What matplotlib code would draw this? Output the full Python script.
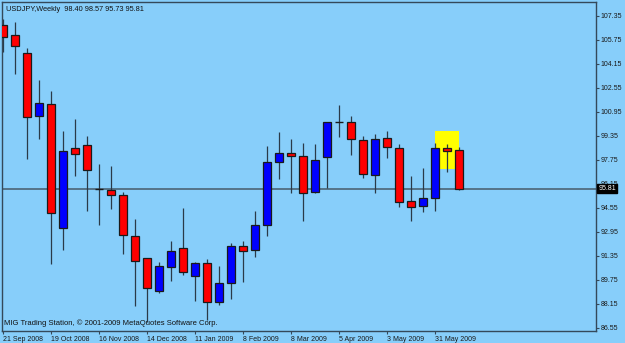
import matplotlib
matplotlib.use("Agg")
import matplotlib.pyplot as plt
import matplotlib.transforms as mtransforms
from matplotlib.patches import Rectangle
import numpy as np

plt.rcParams['font.family'] = ['Liberation Sans', 'DejaVu Sans']

# ---- data (weekly USDJPY candles, oldest first) ----
opens = [106.75, 106.02, 104.86, 100.64, 101.46, 93.17, 98.53, 98.73, 95.80, 95.75,
         95.40, 92.68, 91.20, 88.97, 90.57, 91.84, 89.97, 90.88, 88.28, 89.53,
         92.00, 91.73, 93.40, 97.57, 98.17, 98.00, 95.60, 97.95, 100.28, 100.28,
         99.08, 96.70, 99.17, 98.53, 94.95, 94.66, 95.20, 98.50, 98.40]
highs = [107.15, 106.90, 105.17, 103.02, 102.35, 99.68, 100.46, 99.35, 97.46, 97.35,
         95.57, 93.79, 91.20, 90.90, 92.30, 94.53, 90.90, 91.13, 90.62, 92.17,
         92.30, 94.35, 98.62, 99.57, 99.13, 98.86, 98.80, 100.28, 101.40, 100.62,
         99.35, 99.46, 99.62, 98.80, 96.62, 97.17, 98.84, 98.80, 98.57]
lows = [104.95, 103.42, 97.80, 99.13, 90.80, 91.73, 96.64, 94.30, 93.40, 94.46,
        91.42, 87.97, 86.95, 88.88, 89.62, 90.02, 88.30, 87.02, 88.08, 88.42,
        89.57, 91.24, 92.62, 96.42, 95.53, 93.68, 95.53, 95.84, 99.24, 98.06,
        96.53, 95.50, 97.86, 94.57, 93.68, 94.28, 94.30, 96.95, 95.73]
closes = [105.95, 105.30, 100.57, 101.53, 94.20, 98.35, 98.13, 97.06, 95.80, 95.40,
          92.73, 90.97, 89.20, 90.68, 91.68, 90.28, 90.84, 88.22, 89.53, 92.00,
          91.68, 93.40, 97.57, 98.20, 98.00, 95.55, 97.75, 100.28, 100.28, 99.13,
          96.77, 99.13, 98.57, 94.90, 94.57, 95.20, 98.50, 98.33, 95.81]

date_labels = ["21 Sep 2008", "19 Oct 2008", "16 Nov 2008", "14 Dec 2008", "11 Jan 2009",
               "8 Feb 2009", "8 Mar 2009", "5 Apr 2009", "3 May 2009", "31 May 2009"]
date_label_bars = [0, 4, 8, 12, 16, 20, 24, 28, 32, 36]

price_ticks = [107.35, 105.75, 104.15, 102.55, 100.95, 99.35, 97.75, 96.15,
               94.55, 92.95, 91.35, 89.75, 88.15, 86.55]

highlight_bars = [36, 38]
highlight_prices = [97.15, 99.62]

title_text = "USDJPY,Weekly  98.40 98.57 95.73 95.81"
copyright_text = "MIG Trading Station, \u00a9 2001-2009 MetaQuotes Software Corp."
last_price = 95.81

# ---- styling ----
BG = "#87CEFA"
FRAME = "#34495a"
BULL = "#0000FF"
BEAR = "#FF0000"
W, H = 625, 343

fig = plt.figure(figsize=(W / 100, H / 100), dpi=100)
fig.patch.set_facecolor(BG)
ax = fig.add_axes([2 / W, (H - 331) / H, (596 - 2) / W, (331 - 2) / H])
ax.set_facecolor(BG)

px_per_bar = 12.0
ax.set_xlim((2 - 3) / px_per_bar, (596 - 3) / px_per_bar)
ppu = 15.0
ax.set_ylim(107.35 - (331 - 15.5) / ppu, 107.35 - (2 - 15.5) / ppu)

# highlight rectangle (behind candles)
ax.add_patch(Rectangle((highlight_bars[0], highlight_prices[0]),
                       highlight_bars[1] - highlight_bars[0],
                       highlight_prices[1] - highlight_prices[0],
                       facecolor="#FFFF00", edgecolor="none", zorder=1))

# last price line
ax.axhline(last_price, color="#4b6475", lw=1.2, zorder=1.5)

width = 8 / px_per_bar
for i, (o, h, l, c) in enumerate(zip(opens, highs, lows, closes)):
    ax.vlines(i, l, h, color="#2a3a48", lw=0.9, zorder=2)
    if abs(c - o) < 1e-9:
        ax.hlines(o, i - width / 2, i + width / 2, color="#1a1a1a", lw=1.0, zorder=3)
    else:
        col = BULL if c > o else BEAR
        ax.bar(i, abs(c - o), bottom=min(o, c), width=width, color=col,
               edgecolor="#1a1a1a", linewidth=0.9, zorder=3)

# axes / ticks
for s in ax.spines.values():
    s.set_color(FRAME)
    s.set_linewidth(1.0)

ax.yaxis.tick_right()
ax.set_yticks(price_ticks)
ax.set_yticklabels([f"{p:.2f}" for p in price_ticks])
ax.tick_params(axis="y", direction="out", length=2.5, width=0.8, color=FRAME,
               labelsize=5.0, pad=1.0, labelcolor="#1a1a1a")

ax.set_xticks(date_label_bars)
ax.set_xticklabels(date_labels)
for lab in ax.get_xticklabels():
    lab.set_horizontalalignment("left")
ax.tick_params(axis="x", direction="out", length=2.5, width=0.8, color=FRAME,
               labelsize=5.0, pad=0.8, labelcolor="#1a1a1a")

# current price label
trans = mtransforms.blended_transform_factory(ax.transAxes, ax.transData)
ax.text(1.004, last_price, f"{last_price:.2f}", transform=trans, fontsize=5.0,
        color="white", va="center", ha="left",
        bbox=dict(boxstyle="square,pad=0.2", facecolor="black", edgecolor="black"),
        zorder=10, clip_on=False)

ax.text(4 / 594, 1 - 4 / 329, title_text, transform=ax.transAxes, fontsize=5.3,
        color="#111111", va="top", ha="left", zorder=10)
ax.text(2 / 594, 4 / 329, copyright_text, transform=ax.transAxes, fontsize=5.5,
        color="#111111", va="bottom", ha="left", zorder=10)

fig.savefig("out.png", dpi=100, facecolor=BG)
